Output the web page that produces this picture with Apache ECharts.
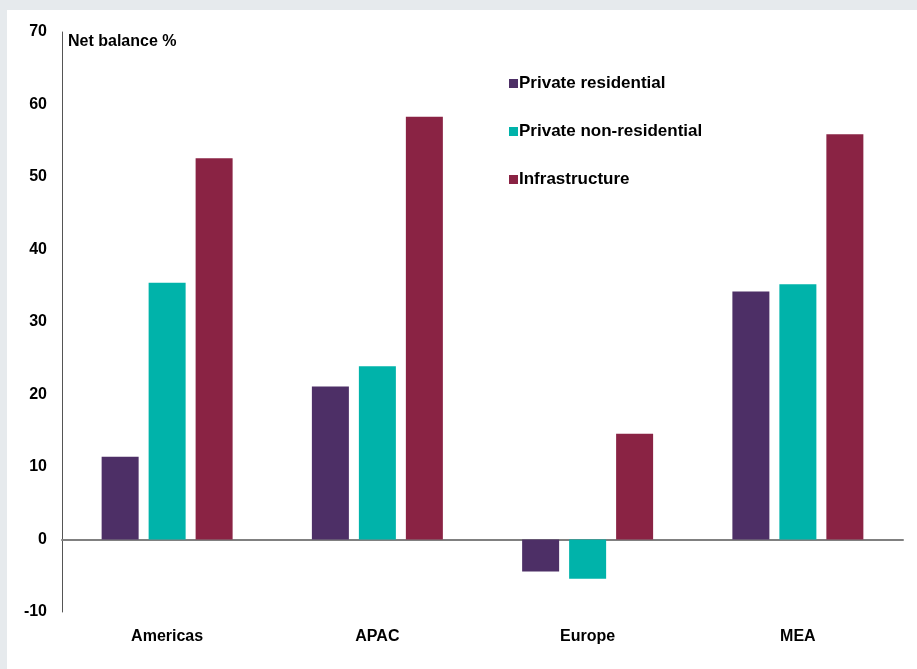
<!DOCTYPE html>
<html><head><meta charset="utf-8">
<script src="https://cdn.jsdelivr.net/npm/echarts@6/dist/echarts.min.js"></script>
<style>
html,body{margin:0;padding:0;background:#e6eaed;width:917px;height:669px;overflow:hidden}
#c{position:absolute;left:7px;top:10px;width:910px;height:659px;background:#fff}
</style></head>
<body><div id="c"></div>
<script>
const categories = ['Americas', 'APAC', 'Europe', 'MEA'];
const privateResidential = [11.4, 21.1, -4.4, 34.2];
const privateNonResidential = [35.4, 23.9, -5.4, 35.2];
const infrastructure = [52.6, 58.3, 14.6, 55.9];
const seriesNames = ['Private residential', 'Private non-residential', 'Infrastructure'];
const colors = ['#4d2f66', '#00b3aa', '#8a2344'];

const font = 'Liberation Sans, Arial, sans-serif';
const chart = echarts.init(document.getElementById('c'));
chart.setOption({
  animation: false,
  color: colors,
  grid: {left: 55, right: 14, top: 22, bottom: 57, outerBoundsMode: 'none', containLabel: false},
  legend: {
    orient: 'vertical', left: 497, top: 60, itemGap: 31,
    itemWidth: 9, itemHeight: 9, icon: 'rect',
    textStyle: {fontFamily: font, fontWeight: 'bold', fontSize: 17, color: '#000', padding: [0,0,0,-4]},
    data: seriesNames
  },
  xAxis: {
    type: 'category', data: categories,
    axisLine: {onZero: true, lineStyle: {color: '#808080', width: 2}},
    axisTick: {show: false},
    axisLabel: {fontFamily: font, fontWeight: 'bold', fontSize: 16, color: '#000', margin: 17}
  },
  yAxis: {
    type: 'value', min: -10, max: 70, interval: 10,
    name: 'Net balance %', nameLocation: 'end', nameGap: -10,
    nameTextStyle: {fontFamily: font, fontWeight: 'bold', fontSize: 16, color: '#000', align: 'left', verticalAlign: 'middle', padding: [0,0,0,6]},
    axisLine: {show: true, lineStyle: {color: '#555', width: 1}},
    axisTick: {show: false},
    splitLine: {show: false},
    axisLabel: {fontFamily: font, fontWeight: 'bold', fontSize: 16, color: '#000', margin: 15}
  },
  series: [
    {name: seriesNames[0], type: 'bar', data: privateResidential, barWidth: 37, barGap: '27%', barCategoryGap: '38%'},
    {name: seriesNames[1], type: 'bar', data: privateNonResidential, barWidth: 37, barGap: '27%'},
    {name: seriesNames[2], type: 'bar', data: infrastructure, barWidth: 37, barGap: '27%'}
  ]
});
</script></body></html>
